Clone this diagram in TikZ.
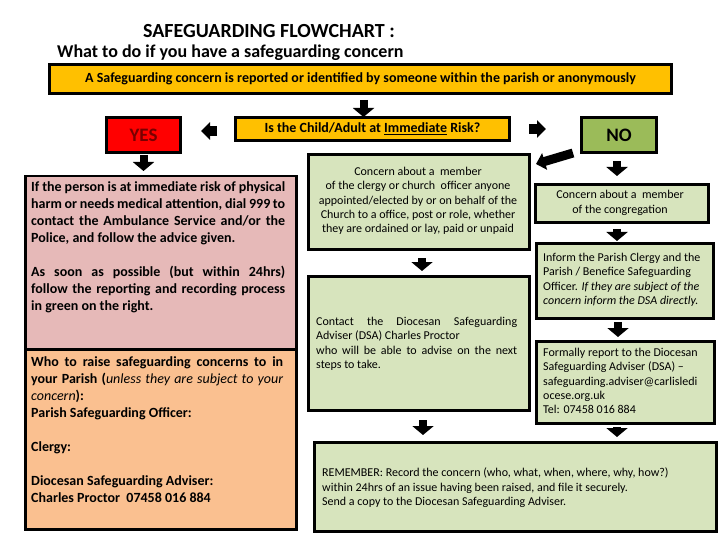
\documentclass[tikz,border=0pt]{standalone}
\usepackage{fontspec}
\setmainfont{Carlito}
\usetikzlibrary{arrows.meta}
\definecolor{amber}{HTML}{FFC000}
\definecolor{yesred}{HTML}{FF0000}
\definecolor{yestext}{HTML}{780000}
\definecolor{nogreen}{HTML}{9BBB59}
\definecolor{lgreen}{HTML}{D7E4BD}
\definecolor{pinkbox}{HTML}{E6B9B8}
\definecolor{peach}{HTML}{FAC090}
\newcommand\fsz[2]{\fontsize{#1}{#2}\selectfont}
\newcommand\jl[2]{\makebox[#1][s]{#2}}
\tikzset{
  box/.style={draw=black, anchor=north west, inner sep=0pt, line width=3pt},
  thinbox/.style={draw=black, anchor=north west, inner sep=0pt, line width=2.5pt},
  txt/.style={inner sep=0pt, font=\fsz{12}{14.3}},
  btxt/.style={inner sep=0pt, anchor=north west, align=left, font=\bfseries\fsz{14}{17}},
  blk/.style={draw=black, line width=8pt, -{Triangle[width=21pt,length=9pt]}},
  sblk/.style={draw=black, line width=10pt, -{Triangle[width=17pt,length=9pt]}},
}
\begin{document}
\begin{tikzpicture}[x=1pt,y=-1pt]
\useasboundingbox (0,0) rectangle (720,540);
\fill[white] (0,0) rectangle (720,540);
% titles
\node[font=\bfseries\fsz{20}{22}, inner sep=0pt] (title) at (269,31) {SAFEGUARDING FLOWCHART :};
\node[anchor=west, inner sep=0pt, font=\bfseries\fsz{18}{20}] (sub) at (57,53) {What to do if you have a safeguarding concern};
% top box
\node[box, fill=amber, minimum width=622pt, minimum height=29pt, font=\bfseries\fsz{14}{16}] (top) at (48,63) {A Safeguarding concern is reported or identified by someone within the parish or anonymously};
% question
\node[box, fill=amber, minimum width=274pt, minimum height=23pt, font=\bfseries\fsz{14}{16}] (q) at (234,116) {Is the Child/Adult at \underline{Immediate} Risk?};
% yes / no
\node[box, fill=yesred, minimum width=74pt, minimum height=35pt, text=yestext, font=\bfseries\fsz{19}{21}] (yes) at (105,116) {YES};
\node[box, fill=nogreen, minimum width=75pt, minimum height=35pt, font=\bfseries\fsz{19}{21}] (no) at (580,116) {NO};
% left column
\node[thinbox, fill=pinkbox, minimum width=271pt, minimum height=173pt] (pink) at (24,175) {};
\node[thinbox, fill=peach, minimum width=271pt, minimum height=180pt] (peach) at (24,348) {};
\node[btxt] (pinktxt) at (31,181) {%
\jl{254pt}{If the person is at immediate risk of physical}\\
\jl{254pt}{harm or needs medical attention, dial 999 to}\\
\jl{254pt}{contact the Ambulance Service and/or the}\\
Police, and follow the advice given.\\[17pt]
\jl{254pt}{As soon as possible (but within 24hrs)}\\
\jl{254pt}{follow the reporting and recording process}\\
in green on the right.};
\node[btxt] (peachtxt) at (31,356) {%
\jl{252pt}{Who to raise safeguarding concerns to in}\\
\jl{252pt}{your Parish (\textit{\mdseries unless they are subject to your}}\\
\textit{\mdseries concern}):\\
Parish Safeguarding Officer:\\[17pt]
Clergy:\\[17pt]
Diocesan Safeguarding Adviser:\\
Charles Proctor\ \ 07458 016 884};
% middle column
\node[box, fill=lgreen, minimum width=221pt, minimum height=95pt] (m1) at (307,153) {};
\node[txt, align=center] (m1txt) at (418,201) {Concern about a\ \ member\\
of the clergy or church\ \ officer anyone\\
appointed/elected by or on behalf of the\\
Church to a office, post or role, whether\\
they are ordained or lay, paid or unpaid};
\node[box, fill=lgreen, minimum width=221pt, minimum height=134pt] (m2) at (307,275) {};
\node[txt, anchor=north west, align=left] (m2txt) at (316,317) {%
\jl{201pt}{Contact the Diocesan Safeguarding}\\
Adviser (DSA) Charles Proctor\\
\jl{201pt}{who will be able to advise on the next}\\
steps to take.};
% right column
\node[box, fill=lgreen, minimum width=173pt, minimum height=38pt] (r1) at (534,183) {};
\node[txt, align=center] (r1txt) at (620,203) {Concern about a\ \ member\\of the congregation};
\node[box, fill=lgreen, minimum width=177pt, minimum height=75pt] (r2) at (535,242) {};
\node[txt, anchor=north west, align=left] (r2txt) at (543,253) {Inform the Parish Clergy and the\\
Parish / Benefice Safeguarding\\
Officer. \textit{If they are subject of the}\\
\textit{concern inform the DSA directly.}};
\node[box, fill=lgreen, minimum width=178pt, minimum height=82pt] (r3) at (535,340) {};
\node[txt, anchor=north west, align=left] (r3txt) at (543,348) {Formally report to the Diocesan\\
Safeguarding Adviser (DSA) --\\
safeguarding.adviser@carlisledi\\
ocese.org.uk\\
Tel: 07458 016 884};
% remember
\node[box, fill=lgreen, minimum width=402pt, minimum height=89pt] (rem) at (313,441) {};
\node[txt, anchor=north west, align=left] (remtxt) at (322,468) {REMEMBER: Record the concern (who, what, when, where, why, how?)\\
within 24hrs of an issue having been raised, and file it securely.\\
Send a copy to the Diocesan Safeguarding Adviser.};
% arrows
\draw[blk, shorten <=5pt, shorten >=-1pt] ([xshift=3pt]top.south) -- ([xshift=-9pt]q.north);
\draw[sblk, shorten <=17pt, shorten >=19pt] ([yshift=-2pt]q.west) -- ([yshift=-2pt]q.west -| yes.east);
\draw[sblk, shorten <=18pt, shorten >=34pt] (q.east) -- (q.east -| no.west);
\draw[blk, shorten <=1pt, shorten >=4pt] (yes.south) -- (yes.south |- pink.north);
\draw[sblk, line width=9pt] ([xshift=-7pt,yshift=1pt]no.south west) -- ([xshift=5pt,yshift=-11pt]m1.north east);
\draw[blk, shorten <=7pt, shorten >=7pt] ([xshift=-2pt]no.south) -- ([xshift=-2pt]no.south |- r1.north);
\draw[blk, shorten <=5pt, shorten >=1pt] ([xshift=-2pt]no.south |- r1.south) -- ([xshift=-2pt]no.south |- r2.north);
\draw[blk, shorten <=2pt, shorten >=3pt] ([xshift=-1pt]no.south |- r2.south) -- ([xshift=-1pt]no.south |- r3.north);
\draw[blk, shorten <=7pt, shorten >=4pt] ([xshift=3pt]m1.south) -- ([xshift=3pt]m1.south |- m2.north);
\draw[blk, shorten <=8pt, shorten >=6pt] ([xshift=4pt]m2.south) -- ([xshift=4pt]m2.south |- rem.north);
\draw[blk, shorten <=2pt, shorten >=4pt] ([xshift=-2pt]no.south |- r3.south) -- ([xshift=-2pt]no.south |- rem.north);
\end{tikzpicture}
\end{document}
